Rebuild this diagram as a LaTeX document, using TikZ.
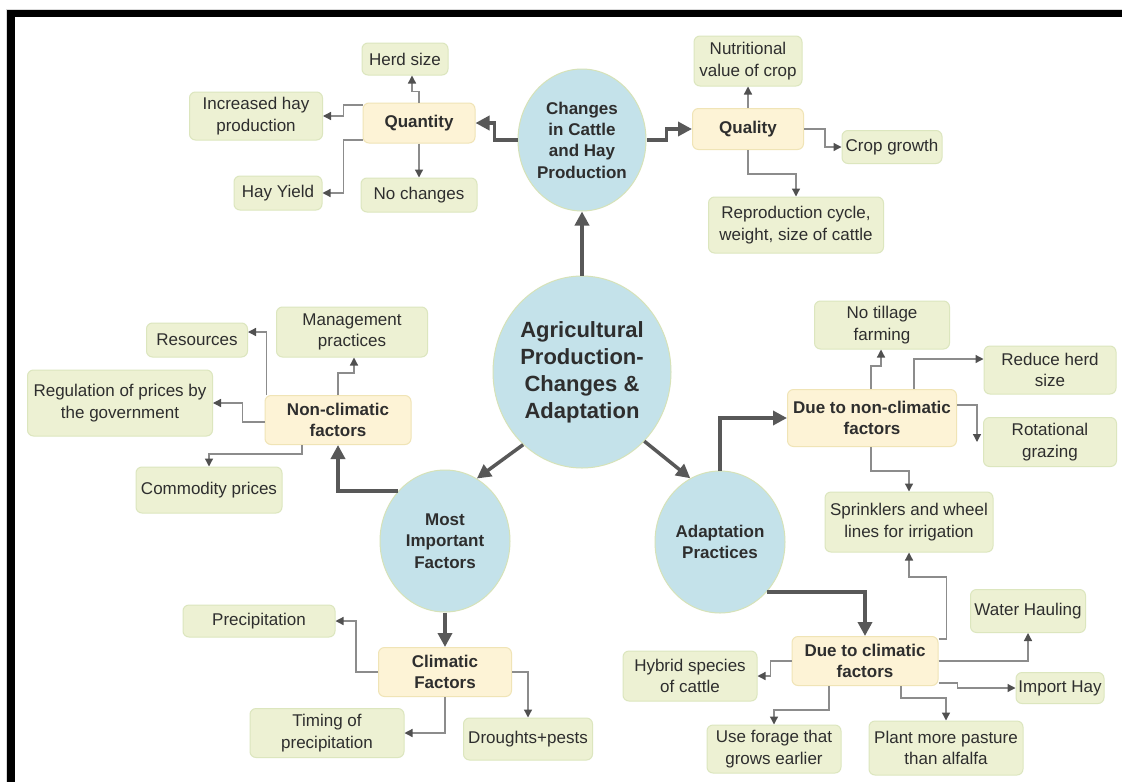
\documentclass[tikz,border=0pt]{standalone}
\usepackage{fontspec}
\setmainfont{Liberation Sans}
\usetikzlibrary{shapes.geometric,arrows.meta}
\definecolor{circfill}{HTML}{C4E2EA}
\definecolor{circline}{HTML}{D6E2B8}
\definecolor{gboxfill}{HTML}{EDF1D3}
\definecolor{gboxline}{HTML}{DCE6BE}
\definecolor{yboxfill}{HTML}{FDF3D6}
\definecolor{yboxline}{HTML}{F0E4B6}
\definecolor{txt}{HTML}{2E2E2E}
\definecolor{thinline}{HTML}{8C8C8C}
\definecolor{tipcol}{HTML}{505050}
\definecolor{thickline}{HTML}{585858}
\begin{document}
\begin{tikzpicture}[x=1pt,y=-1pt,
  gbox/.style={draw=gboxline, fill=gboxfill, rounded corners=6pt, align=center, inner sep=0pt, line width=1pt, text=txt, font=\fontsize{17}{21.5}\selectfont},
  ybox/.style={gbox, draw=yboxline, fill=yboxfill, font=\fontsize{17}{21.5}\selectfont\bfseries},
  circ/.style={ellipse, draw=circline, fill=circfill, line width=1pt, align=center, inner sep=0pt, text=txt, font=\fontsize{17}{21.3}\selectfont\bfseries},
  thinarrow/.style={draw=thinline, line width=1.3pt, -{Triangle[length=8pt,width=8pt,color=tipcol]}},
  thickarrow/.style={draw=thickline, line width=3.5pt, -{Triangle[length=14pt,width=14pt]}},
]
\useasboundingbox (0,0) rectangle (1122,782);
\fill[white] (0,0) rectangle (1122,782);
% frame
\fill[black!15] (6,9) rectangle (1122,10);
\fill[black!15] (6,9) rectangle (7,782);
\fill[black] (7,10) rectangle (1122,17);
\fill[black] (7,10) rectangle (15,782);

% circles
\node[circ, minimum width=128pt, minimum height=142pt] (changes) at (582,140) {Changes\\in Cattle\\and Hay\\Production};
\node[circ, minimum width=178pt, minimum height=192pt, font=\fontsize{22}{27}\selectfont\bfseries] (center) at (582,372) {Agricultural\\Production-\\Changes \&\\Adaptation};
\node[circ, minimum width=130pt, minimum height=142pt] (most) at (445,541) {Most\\Important\\Factors};
\node[circ, minimum width=130pt, minimum height=142pt] (adapt) at (720,542) {Adaptation\\Practices};

% top-left
\node[gbox, minimum width=86pt, minimum height=32pt] (herd) at (405,59) {Herd size};
\node[ybox, minimum width=112pt, minimum height=40pt] (quantity) at (419,123) {Quantity};
\node[gbox, minimum width=133pt, minimum height=48pt] (incr) at (256,116) {Increased hay\\production};
\node[gbox, minimum width=88pt, minimum height=34pt] (hayy) at (278,193) {Hay Yield};
\node[gbox, minimum width=116pt, minimum height=34pt] (noch) at (419,195) {No changes};

% top-right
\node[gbox, minimum width=108pt, minimum height=50pt] (nutr) at (748,61) {Nutritional\\value of crop};
\node[ybox, minimum width=111pt, minimum height=41pt] (quality) at (748,129) {Quality};
\node[gbox, minimum width=100pt, minimum height=33pt] (crop) at (892,147) {Crop growth};
\node[gbox, minimum width=175pt, minimum height=56pt] (repro) at (796,225) {Reproduction cycle,\\weight, size of cattle};

% left middle
\node[gbox, minimum width=101pt, minimum height=34pt] (res) at (197,340) {Resources};
\node[gbox, minimum width=151pt, minimum height=50pt] (mgmt) at (352,332) {Management\\practices};
\node[gbox, minimum width=185pt, minimum height=66pt] (regu) at (120,403) {Regulation of prices by\\the government};
\node[ybox, minimum width=146pt, minimum height=49pt] (nonc) at (338,420) {Non-climatic\\factors};
\node[gbox, minimum width=146pt, minimum height=46pt] (comm) at (209,490) {Commodity prices};

% bottom-left
\node[gbox, minimum width=152pt, minimum height=32pt] (prec) at (259,621) {Precipitation};
\node[ybox, minimum width=133pt, minimum height=49pt] (clim) at (445,672) {Climatic\\Factors};
\node[gbox, minimum width=154pt, minimum height=49pt] (timing) at (327,733) {Timing of\\precipitation};
\node[gbox, minimum width=129pt, minimum height=42pt] (drought) at (528,739) {Droughts+pests};

% right middle
\node[gbox, minimum width=135pt, minimum height=48pt] (notill) at (882,325) {No tillage\\farming};
\node[gbox, minimum width=132pt, minimum height=48pt] (reduce) at (1050,370) {Reduce herd\\size};
\node[ybox, minimum width=169pt, minimum height=57pt] (duenc) at (872,418) {Due to non-climatic\\factors};
\node[gbox, minimum width=133pt, minimum height=49pt] (rot) at (1050,442) {Rotational\\grazing};
\node[gbox, minimum width=168pt, minimum height=60pt] (sprink) at (909,522) {Sprinklers and wheel\\lines for irrigation};

% bottom-right
\node[gbox, minimum width=115pt, minimum height=43pt] (water) at (1028,611) {Water Hauling};
\node[ybox, minimum width=146pt, minimum height=49pt] (duec) at (865,661) {Due to climatic\\factors};
\node[gbox, minimum width=134pt, minimum height=50pt] (hybrid) at (690,676) {Hybrid species\\of cattle};
\node[gbox, minimum width=88pt, minimum height=31pt] (import) at (1060,688) {Import Hay};
\node[gbox, minimum width=134pt, minimum height=48pt] (forage) at (774,749) {Use forage that\\grows earlier};
\node[gbox, minimum width=154pt, minimum height=54pt] (plant) at (946,748) {Plant more pasture\\than alfalfa};

% thick connectors
\draw[thickarrow] (center.north) -- (changes.south);
\draw[thickarrow] (changes.west) -- ++(-23,0) |- (quantity.east);
\draw[thickarrow] (changes.east) -- ++(20,0) |- (quality.west);
\draw[thickarrow] (center.231) -- (most.63);
\draw[thickarrow] (center.-48) -- (adapt.115);
\draw[thickarrow] (most.133) -| (nonc.south);
\draw[thickarrow] (most.south) -- (clim.north);
\draw[thickarrow] (adapt.north) |- (duenc.west);
\draw[thickarrow] (adapt.-47) -| (duec.north);

% thin connectors: quantity
\draw[thinarrow] (quantity.north) -- ++(0,-11) -| ([xshift=7pt]herd.south);
\draw[thinarrow] ([yshift=18pt]quantity.west) -- ++(-19,0) |- (incr.east);
\draw[thinarrow] ([yshift=-17pt]quantity.west) -- ++(-19,0) |- (hayy.east);
\draw[thinarrow] (quantity.south) -- (noch.north);
% quality
\draw[thinarrow] (quality.north) -- (nutr.south);
\draw[thinarrow] (quality.east) -- ++(21,0) |- (crop.west);
\draw[thinarrow] (quality.south) -- ++(0,24) -| (repro.north);
% non-climatic
\draw[thinarrow] ([xshift=2pt]nonc.north west) |- ([yshift=8pt]res.east);
\draw[thinarrow] (nonc.north) -- ++(0,-22) -| ([xshift=2pt]mgmt.south);
\draw[thinarrow] ([yshift=-2pt]nonc.west) -- ++(-22,0) |- (regu.east);
\draw[thinarrow] ([xshift=-36pt]nonc.south) -- ++(0,9) -| (comm.north);
% climatic
\draw[thinarrow] (clim.west) -- ++(-22,0) |- (prec.east);
\draw[thinarrow] (clim.south) |- (timing.east);
\draw[thinarrow] (clim.east) -| (drought.north);
% due to non-climatic
\draw[thinarrow] ([xshift=-1pt]duenc.north) -- ++(0,-23) -| ([xshift=-1pt]notill.south);
\draw[thinarrow] ([xshift=42pt]duenc.north) |- ([yshift=11pt]reduce.west);
\draw[thinarrow] ([yshift=13pt]duenc.east) -| ([xshift=-6pt]rot.west);
\draw[thinarrow] ([xshift=-1pt]duenc.south) -- ++(0,24) -| (sprink.north);
% due to climatic
\draw[thinarrow] ([yshift=22pt]duec.east) -- ++(8,0) -- ++(0,-62) -| (sprink.south);
\draw[thinarrow] (duec.east) -| (water.south);
\draw[thinarrow] ([yshift=-22pt]duec.east) -- ++(19,0) |- (import.west);
\draw[thinarrow] (duec.west) -- ++(-21,0) |- (hybrid.east);
\draw[thinarrow] ([xshift=-36pt]duec.south) -- ++(0,24) -| (forage.north);
\draw[thinarrow] ([xshift=36pt]duec.south) -- ++(0,12) -| (plant.north);
\end{tikzpicture}
\end{document}
